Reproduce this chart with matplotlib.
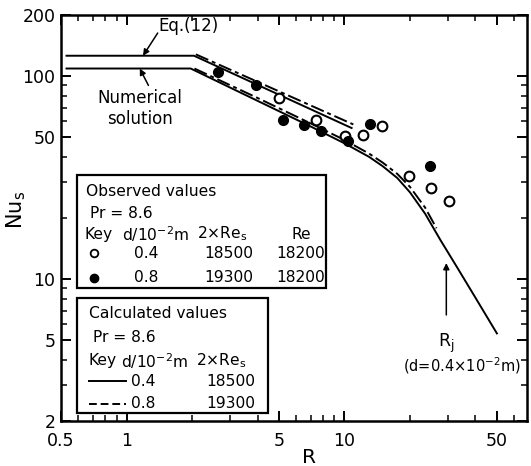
import matplotlib
matplotlib.use("Agg")
import matplotlib.pyplot as plt
from matplotlib.lines import Line2D
from matplotlib.patches import Rectangle
from matplotlib.ticker import FixedLocator, NullFormatter

plt.rcParams['font.family'] = ['DejaVu Sans']
plt.rcParams['mathtext.default'] = 'regular'

# ---------------- data ----------------
# Observed values, d = 0.4e-2 m (open circles)
obs_open_R = [5.0, 7.45, 10.1, 12.2, 14.9, 19.9, 25.0, 30.2]
obs_open_Nu = [78, 60.5, 50.5, 51.5, 56.5, 32.3, 28.2, 24.2]
# Observed values, d = 0.8e-2 m (filled circles)
obs_fill_R = [2.62, 3.95, 5.22, 6.5, 7.85, 10.4, 13.05, 24.8]
obs_fill_Nu = [105, 90, 61, 57.5, 53.5, 48, 58, 36]

# Numerical solution, d = 0.4 (solid)
num04_R = [0.53, 1.97, 4.0, 7.0, 10.0, 13.0, 15.0, 17.5, 20.0, 23.5, 27.6, 33.0, 40.0, 50.2]
num04_Nu = [109, 109, 75.5, 56.5, 46.7, 40.0, 36.0, 31.5, 26.8, 21.0, 15.6, 11.4, 8.1, 5.4]
# Numerical solution, d = 0.8 (dash-dot)
num08_R = [2.05, 4.0, 7.0, 10.0, 13.0, 15.0, 17.5, 20.0, 23.5, 26.5]
num08_Nu = [109, 78, 58.5, 48.5, 41.5, 37.5, 33.0, 28.5, 22.5, 17.8]

# Eq.(12), d = 0.4 (solid)
eq04_R = [0.53, 2.04, 10.8]
eq04_Nu = [126, 126, 55.5]
# Eq.(12), d = 0.8 (dash-dot)
eq08_R = [2.08, 11.0]
eq08_Nu = [128, 57.8]

xtick_vals = [0.5, 1, 5, 10, 50]
xtick_labels = ['0.5', '1', '5', '10', '50']
ytick_vals = [2, 5, 10, 50, 100, 200]
ytick_labels = ['2', '5', '10', '50', '100', '200']

# ---------------- figure ----------------
W, H = 531, 466
fig = plt.figure(figsize=(W / 100, H / 100), dpi=100)


def P(px, py):
    return (px / W, 1 - py / H)


ax = fig.add_axes([61 / W, 1 - 421 / H, (527 - 61) / W, (421 - 15) / H])
ax.set_xscale('log')
ax.set_yscale('log')
ax.set_xlim(0.5, 69)
ax.set_ylim(2, 200)

dashdot = (7, 2, 2, 2)
lw = 1.4
ax.plot(eq04_R, eq04_Nu, color='black', lw=lw)
ax.plot(eq08_R, eq08_Nu, color='black', lw=lw, dashes=dashdot)
ax.plot(num04_R, num04_Nu, color='black', lw=lw)
ax.plot(num08_R, num08_Nu, color='black', lw=lw, dashes=dashdot)

ax.plot(obs_open_R, obs_open_Nu, 'o', ms=7, mfc='white', mec='black', mew=1.5, ls='none')
ax.plot(obs_fill_R, obs_fill_Nu, 'o', ms=7, mfc='black', mec='black', mew=1.0, ls='none')

# axes styling
for s in ax.spines.values():
    s.set_linewidth(1.8)
ax.xaxis.set_major_locator(FixedLocator(xtick_vals))
ax.set_xticklabels(xtick_labels)
ax.xaxis.set_minor_locator(FixedLocator([0.6, 0.7, 0.8, 0.9, 2, 3, 4, 6, 7, 8, 9,
                                         20, 30, 40, 60]))
ax.xaxis.set_minor_formatter(NullFormatter())
ax.yaxis.set_major_locator(FixedLocator(ytick_vals))
ax.set_yticklabels(ytick_labels)
ax.yaxis.set_minor_locator(FixedLocator([3, 4, 6, 7, 8, 9, 20, 30, 40, 60, 70, 80, 90]))
ax.yaxis.set_minor_formatter(NullFormatter())
ax.tick_params(which='both', direction='in', top=True, right=True, labelsize=12.5)
ax.tick_params(which='major', length=7, width=1.4, pad=4)
ax.tick_params(which='minor', length=4, width=1.1)
ax.tick_params(axis='x', which='major', pad=8)

ax.set_xlabel('R', fontsize=14.5)
ax.set_ylabel('Nu$_s$', fontsize=15)
ax.xaxis.set_label_coords(0.532, -0.066)
ax.yaxis.set_label_coords(-0.07, 0.52)

# annotations
arr = dict(arrowstyle='-|>', color='black', lw=1.1, mutation_scale=9, shrinkA=0, shrinkB=0)
ax.text(1.40, 177, 'Eq.(12)', fontsize=12, ha='left', va='center')
ax.annotate('', xy=(1.19, 126), xytext=(1.39, 163), arrowprops=arr)
ax.text(1.15, 69, 'Numerical\nsolution', fontsize=12, ha='center', va='center',
        linespacing=1.2)
ax.annotate('', xy=(1.15, 109), xytext=(1.26, 90), arrowprops=arr)
ax.annotate('', xy=(29.4, 12.0), xytext=(29.4, 6.66), arrowprops=arr)
ax.text(29.4, 4.85, 'R$_j$', fontsize=12.5, ha='center', va='center')
fig.text(*P(521, 366), '(d=0.4×10$^{-2}$m)', fontsize=10.5, ha='right', va='center')

# ------------- legend boxes -------------
fs = 11.2
x0, y0 = P(77, 175)
x1, y1 = P(326, 288)
fig.patches.append(Rectangle((x0, y1), x1 - x0, y0 - y1, transform=fig.transFigure,
                             fill=True, facecolor='white', edgecolor='black', lw=1.6,
                             zorder=5))
x0, y0 = P(77, 298)
x1, y1 = P(268, 413)
fig.patches.append(Rectangle((x0, y1), x1 - x0, y0 - y1, transform=fig.transFigure,
                             fill=True, facecolor='white', edgecolor='black', lw=1.6,
                             zorder=5))


def T(px, py, s, ha='left'):
    fig.text(*P(px, py), s, fontsize=fs, ha=ha, va='center', zorder=6)


T(86, 192, 'Observed values')
T(90, 213, 'Pr = 8.6')
T(84, 234, 'Key')
T(122, 234, 'd/10$^{-2}$m')
T(197, 234, '2×Re$_s$')
T(301, 234, 'Re', 'center')
fig.lines.append(Line2D([P(94, 253)[0]], [P(94, 253)[1]], marker='o', ms=5.5, mfc='white',
                        mec='black', mew=1.3, transform=fig.transFigure, zorder=6))
fig.lines.append(Line2D([P(94, 278)[0]], [P(94, 278)[1]], marker='o', ms=6, mfc='black',
                        mec='black', transform=fig.transFigure, zorder=6))
T(146, 253, '0.4', 'center')
T(229, 253, '18500', 'center')
T(301, 253, '18200', 'center')
T(146, 278, '0.8', 'center')
T(229, 278, '19300', 'center')
T(301, 278, '18200', 'center')

T(89, 314, 'Calculated values')
T(93, 337, 'Pr = 8.6')
T(89, 361, 'Key')
T(121, 361, 'd/10$^{-2}$m')
T(196, 361, '2×Re$_s$')
a, b = P(89, 381)
c, d = P(126, 381)
fig.lines.append(Line2D([a, c], [b, d], color='black', lw=1.4, transform=fig.transFigure,
                        zorder=6))
a, b = P(89, 404)
c, d = P(126, 404)
fig.lines.append(Line2D([a, c], [b, d], color='black', lw=1.4, dashes=(4, 2),
                        transform=fig.transFigure, zorder=6))
T(143, 381, '0.4', 'center')
T(231, 381, '18500', 'center')
T(143, 404, '0.8', 'center')
T(231, 404, '19300', 'center')

fig.savefig('out.png', dpi=100)
